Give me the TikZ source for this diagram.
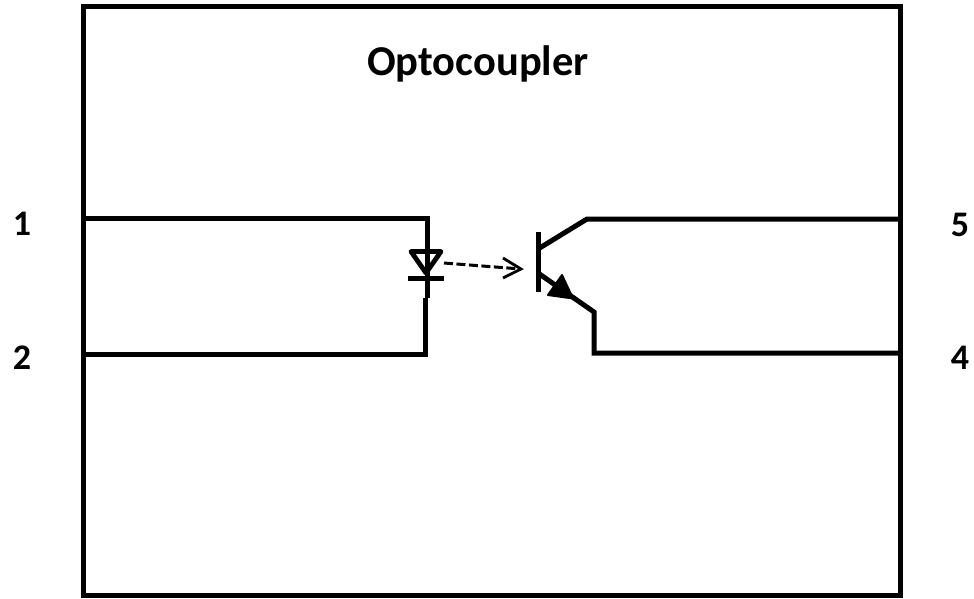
\documentclass[tikz,border=0pt]{standalone}
\usepackage{fontspec}
\setmainfont{Carlito}
\begin{document}
\begin{tikzpicture}[x=1pt,y=-1pt,
  wire/.style={line width=5pt,line join=miter,line cap=butt},
  thin wire/.style={line width=4.8pt,line join=round},
  lbl/.style={font=\fontsize{36}{44}\selectfont\bfseries,inner sep=0pt,text=black},
  title lbl/.style={font=\fontsize{42.5}{50}\selectfont\bfseries,inner sep=0pt}]
\useasboundingbox (0,0) rectangle (974,598);
% outer box
\node[draw,line width=5pt,minimum width=817pt,minimum height=589pt,inner sep=0pt,outer sep=0pt,anchor=north west] (box) at (83,6) {};
\node[title lbl] (title) at (478,63.5) {Optocoupler};
\node[lbl] (p1) at (22,224) {1};
\node[lbl] (p2) at (22,358) {2};
\node[lbl] (p5) at (960,225) {5};
\node[lbl] (p4) at (960,358) {4};
% coordinates
\coordinate (a1) at (83,218);
\coordinate (a2) at (427,218);
\coordinate (a3) at (427,298);
\coordinate (b1) at (425,298);
\coordinate (b2) at (425,354);
\coordinate (b3) at (83,354);
\coordinate (dl) at (411,251.5);
\coordinate (dr) at (441,251.5);
\coordinate (da) at (426,273);
\coordinate (bl) at (408,278);
\coordinate (br) at (444,278);
\coordinate (ls) at (444,263);
\coordinate (le) at (521,269);
\coordinate (hu) at (503,258);
\coordinate (hd) at (503,278);
\coordinate (bt) at (538,232);
\coordinate (bb) at (538,292);
\coordinate (c1) at (538,249);
\coordinate (c2) at (587,219);
\coordinate (c3) at (900,219);
\coordinate (e1) at (538,273);
\coordinate (e2) at (594,312);
\coordinate (e3) at (594,353);
\coordinate (e4) at (900,353);
\coordinate (t1) at (562,275);
\coordinate (t2) at (548,295);
\coordinate (t3) at (573,298.5);
% LED
\draw[wire] (a1) -- (a2) -- (a3);
\draw[wire] (b1) -- (b2) -- (b3);
\draw[thin wire,fill=white] (dl) -- (dr) -- (da) -- cycle;
\draw[wire] (a2) -- (a3);
\draw[wire] (bl) -- (br);
% light
\draw[line width=3pt,dash pattern=on 9pt off 3.5pt] (ls) -- (le);
\draw[line width=2.8pt,line join=miter] (hu) -- (le) -- (hd);
% transistor
\draw[wire] (bt) -- (bb);
\draw[wire] (c1) -- (c2) -- (c3);
\draw[wire] (e1) -- (e2) -- (e3) -- (e4);
\fill[draw,line width=2pt,line join=round] (t1) -- (t3) -- (t2) -- cycle;
\end{tikzpicture}
\end{document}
